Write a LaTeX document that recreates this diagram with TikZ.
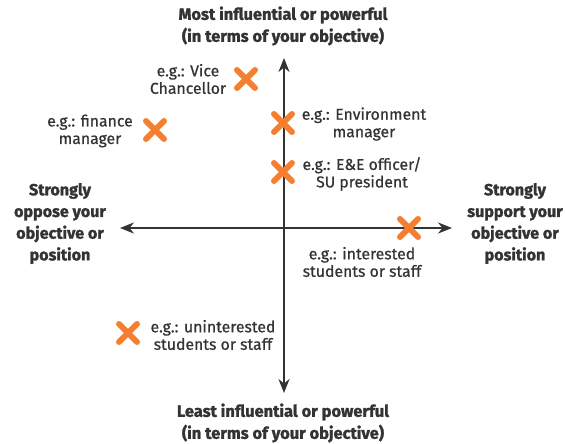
\documentclass[tikz,border=0pt]{standalone}
\usepackage{fontspec}
\setmainfont{Fira Sans}
\newfontfamily\egfont{Fira Sans}[FakeBold=0.6]
\newfontfamily\titlefont{Fira Sans Bold}[FakeBold=1.5]
\usetikzlibrary{arrows.meta}
\definecolor{ink}{HTML}{333333}
\definecolor{crossorange}{HTML}{F57F30}
\tikzset{
  axis/.style={draw=ink, line width=2pt, {Stealth[length=14pt,width=11pt]}-{Stealth[length=14pt,width=11pt]}},
  headtext/.style={text=ink, font=\titlefont\fontsize{16.4}{22}\selectfont, align=center, inner sep=0pt},
  sidetext/.style={text=ink, font=\titlefont\fontsize{16.1}{21.7}\selectfont, align=center, inner sep=0pt},
  eg/.style={text=ink, font=\egfont\fontsize{15.8}{17.5}\selectfont, align=center, inner sep=0pt},
  xmark/.pic={\draw[draw=crossorange, line width=6pt, line cap=round] (-9,-9) -- (9,9) (-9,9) -- (9,-9);}
}
\begin{document}
\begin{tikzpicture}[x=1pt, y=-1pt]
  \useasboundingbox (0,0) rectangle (565,444);
  % axes
  \coordinate (top) at (284,58);
  \coordinate (bottom) at (284,393);
  \coordinate (left) at (120,228);
  \coordinate (right) at (452,228);
  \draw[axis] (bottom) -- (top);
  \draw[axis] (left) -- (right);
  % axis titles
  \node[headtext] (most) at (283,26) {Most influential or powerful\\(in terms of your objective)};
  \node[headtext] (least) at (283,423) {Least influential or powerful\\(in terms of your objective)};
  \node[sidetext] (oppose) at (60,223.5) {Strongly\\oppose your\\objective or\\position};
  \node[sidetext] (support) at (515,223.5) {Strongly\\support your\\objective or\\position};
  % stakeholders
  \pic at (246,79) {xmark};
  \node[eg] (vc) at (188,79) {e.g.: Vice\\Chancellor};
  \pic at (155,130) {xmark};
  \node[eg] (fin) at (90,131) {e.g.: finance\\manager};
  \pic at (283,123) {xmark};
  \node[eg] (env) at (364,124) {e.g.: Environment\\manager};
  \pic at (283,172) {xmark};
  \node[eg] (ee) at (362,174) {e.g.: E\&E officer/\\SU president};
  \pic at (409,228) {xmark};
  \node[eg] (int) at (362,262) {e.g.: interested\\students or staff};
  \pic at (128,333) {xmark};
  \node[eg] (unint) at (213,335) {e.g.: uninterested\\students or staff};
\end{tikzpicture}
\end{document}
